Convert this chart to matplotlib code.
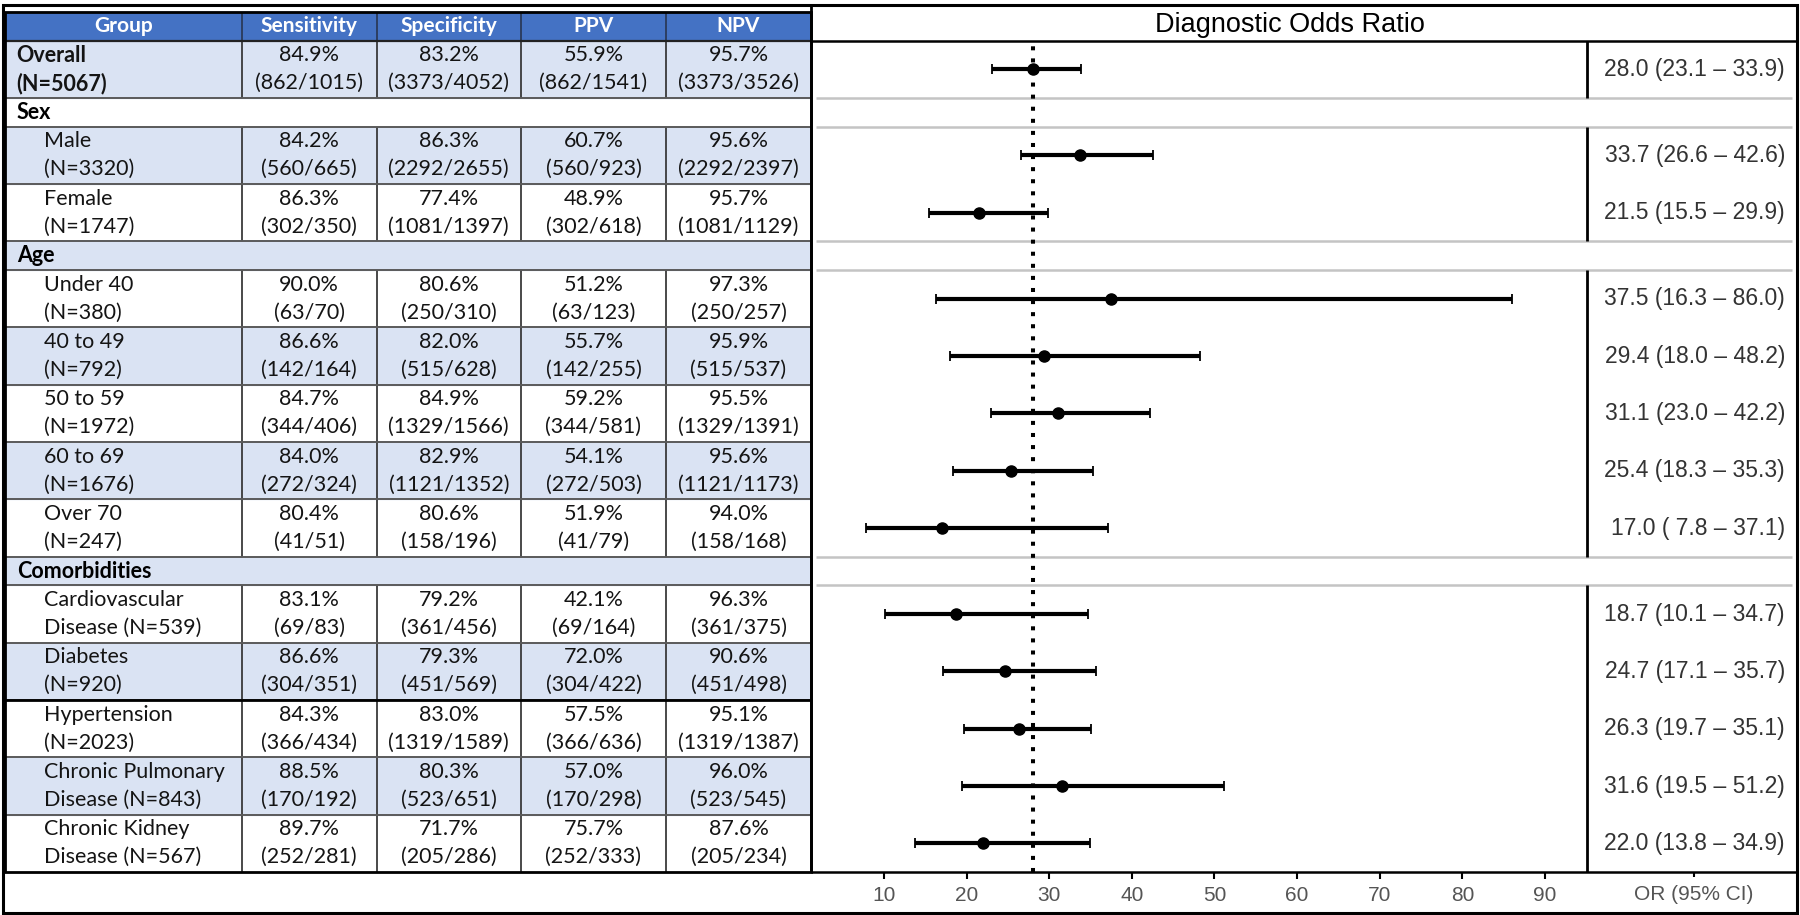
import numpy as np
import matplotlib.pyplot as plt
from matplotlib.patches import Rectangle

# linhas da tabela, na ordem de cima para baixo
labels = ["Overall", "Sex", "Male", "Female", "Age", "Under 40", "40 to 49",
          "50 to 59", "60 to 69", "Over 70", "Comorbidities", "Cardiovascular",
          "Diabetes", "Hypertension", "Chronic Pulmonary", "Chronic Kidney"]
labels2 = ["(N=5067)", "", "(N=3320)", "(N=1747)", "", "(N=380)", "(N=792)",
           "(N=1972)", "(N=1676)", "(N=247)", "", "Disease (N=539)", "(N=920)",
           "(N=2023)", "Disease (N=843)", "Disease (N=567)"]
secao = [False, True, False, False, True, False, False, False, False, False,
         True, False, False, False, False, False]

colunas = ["Group", "Sensitivity", "Specificity", "PPV", "NPV"]

# valores das linhas de dados (13 grupos)
sens = ["84.9%", "84.2%", "86.3%", "90.0%", "86.6%", "84.7%", "84.0%", "80.4%",
        "83.1%", "86.6%", "84.3%", "88.5%", "89.7%"]
sens_n = ["(862/1015)", "(560/665)", "(302/350)", "(63/70)", "(142/164)", "(344/406)",
          "(272/324)", "(41/51)", "(69/83)", "(304/351)", "(366/434)", "(170/192)",
          "(252/281)"]
spec = ["83.2%", "86.3%", "77.4%", "80.6%", "82.0%", "84.9%", "82.9%", "80.6%",
        "79.2%", "79.3%", "83.0%", "80.3%", "71.7%"]
spec_n = ["(3373/4052)", "(2292/2655)", "(1081/1397)", "(250/310)", "(515/628)",
          "(1329/1566)", "(1121/1352)", "(158/196)", "(361/456)", "(451/569)",
          "(1319/1589)", "(523/651)", "(205/286)"]
ppv = ["55.9%", "60.7%", "48.9%", "51.2%", "55.7%", "59.2%", "54.1%", "51.9%",
       "42.1%", "72.0%", "57.5%", "57.0%", "75.7%"]
ppv_n = ["(862/1541)", "(560/923)", "(302/618)", "(63/123)", "(142/255)", "(344/581)",
         "(272/503)", "(41/79)", "(69/164)", "(304/422)", "(366/636)", "(170/298)",
         "(252/333)"]
npv = ["95.7%", "95.6%", "95.7%", "97.3%", "95.9%", "95.5%", "95.6%", "94.0%",
       "96.3%", "90.6%", "95.1%", "96.0%", "87.6%"]
npv_n = ["(3373/3526)", "(2292/2397)", "(1081/1129)", "(250/257)", "(515/537)",
         "(1329/1391)", "(1121/1173)", "(158/168)", "(361/375)", "(451/498)",
         "(1319/1387)", "(523/545)", "(205/234)"]

dor = np.array([28.0, 33.7, 21.5, 37.5, 29.4, 31.1, 25.4, 17.0, 18.7, 24.7, 26.3, 31.6, 22.0])
dor_lo = np.array([23.1, 26.6, 15.5, 16.3, 18.0, 23.0, 18.3, 7.8, 10.1, 17.1, 19.7, 19.5, 13.8])
dor_hi = np.array([33.9, 42.6, 29.9, 86.0, 48.2, 42.2, 35.3, 37.1, 34.7, 35.7, 35.1, 51.2, 34.9])

# layout em pixels
W, H = 1800, 915
topo, base = 12, 872
x_col = [5, 242, 376.5, 521, 666, 811]
x_sep = 1587
x_dir = 1797
n_unid = 1 + sum(1 if s else 2 for s in secao)
u_px = (base - topo) / n_unid

def py(u):
    return topo + u * u_px

# posições (em unidades de linha) de cada linha da tabela
inicio, centro = [], []
u = 1
for s in secao:
    h = 1 if s else 2
    inicio.append(u)
    centro.append(u + h / 2)
    u += h
centro_dados = [c for c, s in zip(centro, secao) if not s]

azul = "#4472C4"
azul_claro = "#DAE3F3"
fonte_tab = "Lato"
fonte_for = "Liberation Sans"
tam_tab = 15.5
cor_tab = "#141414"

fig = plt.figure(figsize=(18, 9.15), dpi=100)
bg = fig.add_axes([0, 0, 1, 1])
bg.set_xlim(0, W)
bg.set_ylim(H, 0)
bg.axis("off")

# cabeçalho
bg.add_patch(Rectangle((x_col[0], py(0)), x_col[-1] - x_col[0], u_px, color=azul, zorder=1))
for i, c in enumerate(colunas):
    bg.text((x_col[i] + x_col[i + 1]) / 2, py(0.5), c, ha="center", va="center",
            color="white", fontsize=15, fontweight="bold", family=fonte_tab, zorder=5)

# linhas da tabela
k = 0
for i, lab in enumerate(labels):
    h = 1 if secao[i] else 2
    y0, y1 = py(inicio[i]), py(inicio[i] + h)
    if i % 2 == 0:
        bg.add_patch(Rectangle((x_col[0], y0), x_col[-1] - x_col[0], y1 - y0,
                               color=azul_claro, zorder=1))
    yc = py(centro[i])
    if secao[i]:
        bg.text(17, yc, lab, ha="left", va="center", fontsize=tam_tab, fontweight="bold",
                family=fonte_tab, color="black", zorder=5)
        continue
    negrito = "bold" if i == 0 else "normal"
    xl = 16 if i == 0 else 44
    bg.text(xl, yc - 14, lab, ha="left", va="center", fontsize=tam_tab, fontweight=negrito,
            family=fonte_tab, color=cor_tab, zorder=5)
    bg.text(xl, yc + 14, labels2[i], ha="left", va="center", fontsize=tam_tab, fontweight=negrito,
            family=fonte_tab, color=cor_tab, zorder=5)
    for j, (a, b) in enumerate([(sens, sens_n), (spec, spec_n), (ppv, ppv_n), (npv, npv_n)]):
        xc = (x_col[j + 1] + x_col[j + 2]) / 2
        bg.text(xc, yc - 14, a[k], ha="center", va="center", fontsize=tam_tab,
                family=fonte_tab, color=cor_tab, zorder=5)
        bg.text(xc, yc + 14, b[k], ha="center", va="center", fontsize=tam_tab,
                family=fonte_tab, color=cor_tab, zorder=5)
    # separadores verticais das colunas
    bg.vlines(x_col[1:-1], y0, y1, color="#3a3a3a", lw=1.3, zorder=3)
    k += 1

bg.vlines(x_col[1:-1], py(0), py(1), color="#2a3a5a", lw=1.3, zorder=3)
bordas = [py(u) for u in inicio[1:]]
bg.hlines(bordas, x_col[0], x_col[-1], color="#5a5a5a", lw=1.4, zorder=3)
bg.hlines(py(inicio[labels.index("Hypertension")]), x_col[0], x_col[-1], color="black", lw=2, zorder=4)
bg.hlines([py(1)], x_col[0], x_col[-1], color="#222222", lw=1.6, zorder=4)
bg.add_patch(Rectangle((x_col[0], py(0)), x_col[-1] - x_col[0], base - py(0),
                       fill=False, ec="black", lw=2, zorder=4))

# painel do forest plot
bg.hlines(py(1), x_col[-1], x_dir, color="black", lw=1.8, zorder=4)
bg.hlines(base, x_col[-1], x_dir, color="black", lw=1.8, zorder=4)
bg.vlines(x_col[-1], topo - 6, base, color="black", lw=2, zorder=4)
bg.text((x_col[-1] + x_dir) / 2 - 14, py(0.45), "Diagnostic Odds Ratio", ha="center", va="center",
        fontsize=19.5, family=fonte_for, color="black", zorder=5)

# linhas cinza das seções e separador vertical em blocos
cortes = [1]
for i, s in enumerate(secao):
    if s:
        y0, y1 = py(inicio[i]), py(inicio[i] + 1)
        bg.hlines([y0, y1], x_col[-1] + 5, x_dir - 5, color="#c4c4c4", lw=1.8, zorder=2)
        cortes += [inicio[i], inicio[i] + 1]
cortes.append(n_unid)
for a, b in zip(cortes[0::2], cortes[1::2]):
    bg.vlines(x_sep, py(a), py(b), color="black", lw=2, zorder=4)

# texto OR (IC 95%)
for c, d, lo, hi in zip(centro_dados, dor, dor_lo, dor_hi):
    bg.text(x_dir - 12, py(c), f"{d:.1f} ({lo:4.1f} \u2013 {hi:.1f})", ha="right", va="center",
            fontsize=16.5, family=fonte_for, color="#333333", zorder=5)
x_or = (x_sep + x_dir) / 2 + 2
bg.vlines(x_or, base, base + 5, color="black", lw=1.5, zorder=4)
bg.text(x_or, base + 22, "OR (95% CI)", ha="center", va="center", fontsize=15,
        family=fonte_for, color="#555555", zorder=5)

# eixo do forest plot
ax = fig.add_axes([x_col[-1] / W, (H - base) / H, (x_sep - x_col[-1]) / W, (base - py(1)) / H])
ax.patch.set_alpha(0)
ax.set_xlim(1.17, 95.08)
ax.set_ylim(n_unid, 1)
ax.errorbar(dor, centro_dados, xerr=[dor - dor_lo, dor_hi - dor], fmt="o", color="black",
            ms=8, elinewidth=3, capsize=3.6, capthick=1.3, zorder=3)
ax.axvline(dor[0], color="black", lw=2.9, ls=(0, (1, 2)), zorder=2)
for sp in ["top", "left", "right", "bottom"]:
    ax.spines[sp].set_visible(False)
ax.set_yticks([])
ax.set_xticks(np.arange(10, 100, 10))
ax.tick_params(axis="x", direction="out", length=5, width=1.5, labelsize=15,
               labelcolor="#555555", pad=5)
for t in ax.get_xticklabels():
    t.set_family(fonte_for)

# moldura externa
bg.add_patch(Rectangle((3, 5), x_dir - 3, 908, fill=False, ec="black", lw=2.2, zorder=6))

fig.savefig("out.png", dpi=100)
